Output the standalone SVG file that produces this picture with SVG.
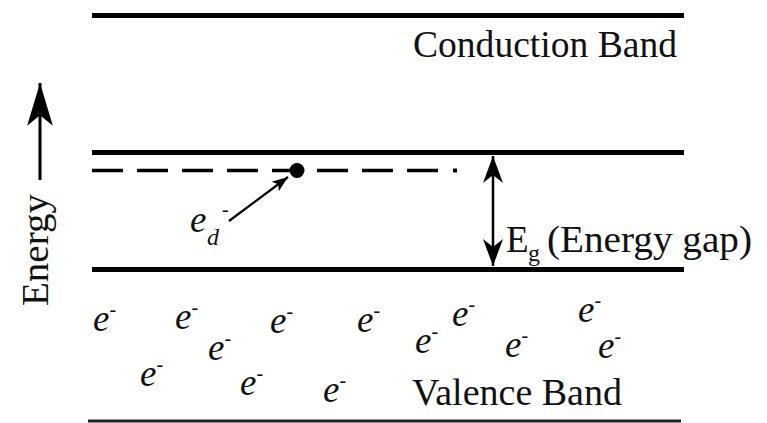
<svg xmlns="http://www.w3.org/2000/svg" width="767" height="423" viewBox="0 0 767 423" font-family="Liberation Serif">
  <style>
    .band { stroke: #000; stroke-width: 5; fill: none; }
    .lbl { font-size: 37px; fill: #111; }
    .el { font-style: italic; font-size: 37px; fill: #111; }
    .sup { font-size: 20px; font-style: normal; }
    .conn { stroke: #000; fill: none; }
  </style>
  <defs>
    <marker id="bigHead" markerUnits="userSpaceOnUse" markerWidth="50" markerHeight="30" refX="0" refY="0" viewBox="-42 -14 44 28" orient="auto">
      <path d="M0,0 L-40,-12 L-30,0 L-40,12 Z" fill="#000"/>
    </marker>
    <marker id="gapHead" markerUnits="userSpaceOnUse" markerWidth="32" markerHeight="24" refX="0" refY="0" viewBox="-29 -12 31 24" orient="auto-start-reverse">
      <path d="M0,0 L-27,-10 L-19,0 L-27,10 Z" fill="#000"/>
    </marker>
    <marker id="smallHead" markerUnits="userSpaceOnUse" markerWidth="20" markerHeight="16" refX="0" refY="0" viewBox="-18 -8 20 16" orient="auto">
      <path d="M0,0 L-16,-6 L-12,0 L-16,6 Z" fill="#000"/>
    </marker>
  </defs>

  <g id="conduction-band">
    <line class="band" x1="92" y1="15.5" x2="684" y2="15.5"/>
    <text class="lbl" x="413" y="57" textLength="264" lengthAdjust="spacingAndGlyphs">Conduction Band</text>
  </g>

  <g id="energy-axis">
    <text class="lbl" transform="translate(48,250) rotate(-90)" text-anchor="middle" textLength="112" lengthAdjust="spacingAndGlyphs">Energy</text>
  </g>

  <g id="gap-top">
    <line class="band" x1="92" y1="152.5" x2="684" y2="152.5"/>
  </g>

  <g id="donor-level">
    <line x1="92" y1="170.5" x2="440" y2="170.5" stroke="#000" stroke-width="3.5" stroke-dasharray="31 14"/>
    <rect x="453" y="168.5" width="4" height="4" fill="#000"/>
    <circle cx="297" cy="170.5" r="7.5" fill="#000"/>
  </g>

  <g id="donor-electron">
    <text class="el" x="190" y="232">e</text>
    <text class="el" x="207" y="245" style="font-size:24px">d</text>
    <text class="el sup" x="222" y="216">-</text>
  </g>

  <g id="gap-bottom">
    <line class="band" x1="92" y1="269.5" x2="684" y2="269.5"/>
  </g>

  <g id="energy-gap">
    <text class="lbl" x="506" y="252">E</text>
    <text class="lbl" x="528" y="261" style="font-size:24px">g</text>
    <text class="lbl" x="547" y="252" textLength="205" lengthAdjust="spacingAndGlyphs">(Energy gap)</text>
  </g>

  <g id="valence-band">
    <text class="lbl" x="412" y="405" textLength="210" lengthAdjust="spacingAndGlyphs">Valence Band</text>
    <line x1="88" y1="421" x2="681" y2="421" stroke="#222" stroke-width="3"/>
  </g>

  <g id="electrons">
    <text class="el" x="93" y="331">e<tspan class="sup" dy="-15">-</tspan></text>
    <text class="el" x="175" y="329">e<tspan class="sup" dy="-15">-</tspan></text>
    <text class="el" x="270" y="333">e<tspan class="sup" dy="-15">-</tspan></text>
    <text class="el" x="357" y="332">e<tspan class="sup" dy="-15">-</tspan></text>
    <text class="el" x="452" y="326">e<tspan class="sup" dy="-15">-</tspan></text>
    <text class="el" x="578" y="322">e<tspan class="sup" dy="-15">-</tspan></text>
    <text class="el" x="208" y="360">e<tspan class="sup" dy="-15">-</tspan></text>
    <text class="el" x="415" y="353">e<tspan class="sup" dy="-15">-</tspan></text>
    <text class="el" x="505" y="357">e<tspan class="sup" dy="-15">-</tspan></text>
    <text class="el" x="598" y="358">e<tspan class="sup" dy="-15">-</tspan></text>
    <text class="el" x="140" y="386">e<tspan class="sup" dy="-15">-</tspan></text>
    <text class="el" x="240" y="395">e<tspan class="sup" dy="-15">-</tspan></text>
    <text class="el" x="323" y="402">e<tspan class="sup" dy="-15">-</tspan></text>
  </g>

  <g id="connectors">
    <line class="conn" x1="40" y1="180" x2="40" y2="83" stroke-width="3" marker-end="url(#bigHead)"/>
    <line class="conn" x1="493" y1="156" x2="493" y2="266" stroke-width="2.5" marker-start="url(#gapHead)" marker-end="url(#gapHead)"/>
    <line class="conn" x1="229" y1="221" x2="288" y2="177" stroke-width="2.2" marker-end="url(#smallHead)"/>
  </g>
</svg>
